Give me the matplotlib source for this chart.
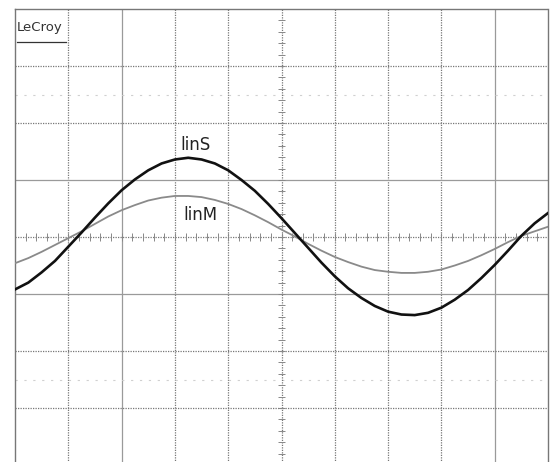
import numpy as np
import matplotlib.pyplot as plt

# time base in screen divisions (10 divisions across)
t_div = np.arange(0, 10.01, 0.25)

# traces, in vertical divisions
lin_s = [-0.92, -0.80, -0.62, -0.42, -0.17, 0.08, 0.34, 0.59, 0.82, 1.01,
         1.17, 1.29, 1.36, 1.39, 1.36, 1.29, 1.17, 1.00, 0.81, 0.58,
         0.33, 0.07, -0.19, -0.45, -0.69, -0.90, -1.07, -1.21, -1.31, -1.36,
         -1.37, -1.33, -1.24, -1.10, -0.93, -0.72, -0.49, -0.24, 0.02, 0.24,
         0.42]
lin_m = [-0.46, -0.37, -0.26, -0.14, -0.02, 0.10, 0.23, 0.36, 0.47, 0.56,
         0.64, 0.69, 0.72, 0.72, 0.70, 0.65, 0.58, 0.49, 0.38, 0.26,
         0.13, 0.01, -0.12, -0.24, -0.35, -0.44, -0.52, -0.58, -0.61, -0.63,
         -0.63, -0.61, -0.57, -0.50, -0.42, -0.32, -0.21, -0.09, 0.02, 0.10,
         0.18]

labels = {"linS": (3.1, 1.62), "linM": (3.15, 0.38)}

fig = plt.figure(figsize=(5.58, 4.62), dpi=100)
# screen: 15..548 px wide, 9..465 px tall (bottom row is cut off)
ax = fig.add_axes([15 / 558, -3 / 462, 533 / 558, 456 / 462])
ax.set_xlim(0, 10)
ax.set_ylim(-4, 4)
ax.set_xticks([])
ax.set_yticks([])
for s in ax.spines.values():
    s.set_linestyle((0, (1, 1)))
    s.set_color("#777777")
    s.set_linewidth(1.0)

# graticule
for xv in range(1, 10):
    if xv == 5:
        continue
    solid = xv in (2, 9)
    ax.axvline(xv, color="#9a9a9a" if solid else "#777777",
               ls="-" if solid else (0, (1, 1)), lw=0.9)
for yv in range(-3, 4):
    if yv == 0:
        continue
    solid = abs(yv) == 1
    ax.axhline(yv, color="#9a9a9a" if solid else "#777777",
               ls="-" if solid else (0, (1, 1)), lw=0.9)
for yv in (2.5, -2.5):
    ax.axhline(yv, color="#d0d0d0", ls=(0, (2, 6)), lw=0.8)

# centre axes with minor ticks
ax.axhline(0, color="#777777", ls=(0, (1, 1)), lw=0.9)
ax.axvline(5, color="#777777", ls=(0, (1, 1)), lw=0.9)
minor = np.arange(0.2, 10, 0.2)
ax.vlines(minor, -0.07, 0.07, color="#888888", lw=0.7)
minor_y = np.arange(-3.8, 4, 0.2)
ax.hlines(minor_y, 4.93, 5.07, color="#888888", lw=0.7)

ax.plot(t_div, lin_m, color="#8a8a8a", lw=1.3, zorder=3)
ax.plot(t_div, lin_s, color="#111111", lw=1.9, zorder=4)

for name, (lx, ly) in labels.items():
    ax.text(lx, ly, name, fontsize=12, color="#222222", va="center", ha="left",
            zorder=5)

ax.text(0.04, 3.68, "LeCroy", fontsize=9.5, color="#333333", va="center",
        ha="left")
ax.plot([0.04, 0.95], [3.42, 3.42], color="#333333", lw=0.9)

fig.savefig("out.png", dpi=100)
